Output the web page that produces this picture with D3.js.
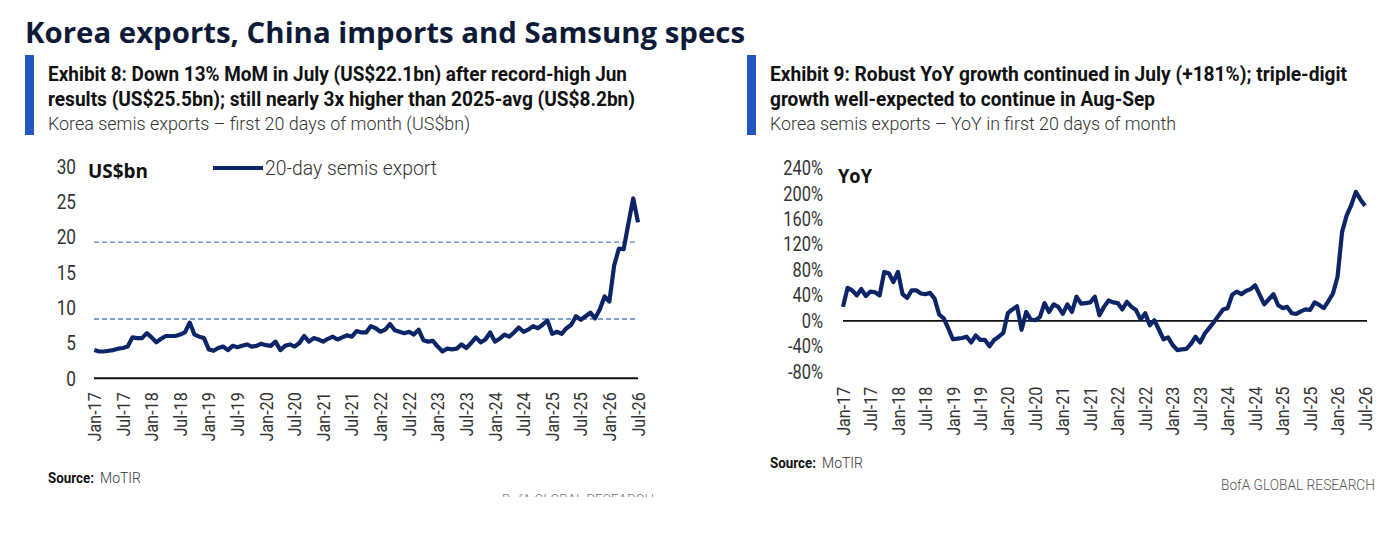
<!DOCTYPE html>
<html><head><meta charset="utf-8">
<script src="https://cdn.jsdelivr.net/npm/d3@7"></script>
<style>
html,body{margin:0;padding:0;background:#fff;}
svg{display:block;}
</style></head>
<body>
<svg id="c" width="1396" height="534"></svg>
<script>
// ---------- DATA ----------
const tickLabels = ["Jan-17","Jul-17","Jan-18","Jul-18","Jan-19","Jul-19","Jan-20","Jul-20","Jan-21","Jul-21",
  "Jan-22","Jul-22","Jan-23","Jul-23","Jan-24","Jul-24","Jan-25","Jul-25","Jan-26","Jul-26"];
// Korea semis exports, first 20 days of month (US$bn), Jan-17 .. Jul-26
const exportsBn = [
 4.0,3.8,3.8,3.9,4.0,4.2,4.3,4.5,5.8,5.7,5.7,6.4,
 5.8,5.1,5.6,6.0,6.0,6.0,6.2,6.5,7.9,6.2,5.9,5.7,
 4.1,3.9,4.3,4.5,4.0,4.6,4.4,4.6,4.8,4.5,4.6,4.9,
 4.7,4.6,5.2,4.0,4.6,4.8,4.5,5.0,6.0,5.2,5.7,5.5,
 5.2,5.6,5.9,5.5,5.8,6.1,5.9,6.7,6.5,6.5,7.4,7.1,
 6.6,6.9,7.7,6.8,6.6,6.4,6.6,6.2,6.9,5.4,5.2,5.3,
 4.5,3.8,4.2,4.1,4.2,4.8,4.3,5.0,5.8,5.1,5.5,6.5,
 5.2,5.6,6.2,5.9,6.5,7.2,6.6,6.9,7.4,7.1,7.6,8.2,
 6.3,6.6,6.3,7.1,7.6,8.8,8.3,8.8,9.3,8.5,9.8,11.6,
 10.9,16.0,18.4,18.3,22.0,25.5,22.1];
// Korea semis exports YoY (%), first 20 days of month
const yoyPct = [
 22,52,48,40,50,39,46,45,40,77,75,61,
 77,42,36,48,48,43,42,44,35,10,4,-12,
 -29,-28,-27,-25,-34,-23,-30,-30,-40,-30,-25,-19,
 12,18,23,-14,14,2,1,6,28,14,26,22,
 11,26,14,38,27,28,29,38,9,22,32,29,
 28,18,30,22,17,2,12,-7,1,-14,-29,-26,
 -38,-46,-45,-44,-36,-25,-34,-20,-11,-2,8,18,
 20,41,46,42,47,50,56,41,26,34,42,25,
 20,22,12,11,15,18,17,29,25,20,31,43,
 69,140,166,182,203,191,181];
const refLines = [19.3, 8.4];           // dashed reference levels (US$bn)
const leftTicks = [0,5,10,15,20,25,30];
const rightTicks = [-80,-40,0,40,80,120,160,200,240];

// ---------- STYLE ----------
const NAVY = "#0b2566", DASH = "#5a7fc4", BAR = "#2356c0", TXT = "#2b2b2b";
const FF = 'Roboto,"Noto Sans",sans-serif';
const svg = d3.select("#c");

function condense(sel, f){ // horizontally condense text by factor f (keeps it real text)
  sel.each(function(){
    const w = this.getComputedTextLength();
    d3.select(this).attr("textLength", w*f).attr("lengthAdjust","spacingAndGlyphs");
  });
  return sel;
}
function txt(x,y,s,o){
  const t = svg.append("text").attr("x",x).attr("y",y).text(s)
    .attr("font-family", o.ff||FF).attr("font-size",o.fs).attr("font-weight",o.fw||400)
    .attr("fill",o.fill||TXT).attr("text-anchor",o.anchor||"start");
  if (o.w) t.attr("textLength",o.w).attr("lengthAdjust","spacingAndGlyphs");
  return t;
}

// ---------- HEADERS ----------
txt(25,43,"Korea exports, China imports and Samsung specs",{ff:'"Open Sans",sans-serif',fs:28,fw:700,fill:"#0d1a38",w:720});

svg.append("rect").attr("x",25).attr("y",55).attr("width",9).attr("height",80).attr("fill",BAR);
txt(48,81,"Exhibit 8: Down 13% MoM in July (US$22.1bn) after record-high Jun",{fs:19.5,fw:700,fill:"#111",w:579});
txt(48,106,"results (US$25.5bn); still nearly 3x higher than 2025-avg (US$8.2bn)",{fs:19.5,fw:700,fill:"#111",w:587});
txt(48,130,"Korea semis exports \u2013 first 20 days of month (US$bn)",{fs:18.5,fw:300,fill:"#333",w:422});

svg.append("rect").attr("x",747).attr("y",55).attr("width",9).attr("height",80).attr("fill",BAR);
txt(770,81,"Exhibit 9: Robust YoY growth continued in July (+181%); triple-digit",{fs:19.5,fw:700,fill:"#111",w:577});
txt(770,106,"growth well-expected to continue in Aug-Sep",{fs:19.5,fw:700,fill:"#111",w:385});
txt(770,130,"Korea semis exports \u2013 YoY in first 20 days of month",{fs:18.5,fw:300,fill:"#333",w:406});

// ---------- LEFT CHART ----------
const xL = d3.scaleLinear().domain([0,114]).range([94.3,638]);
const yL = d3.scaleLinear().domain([0,30]).range([378.3,166.7]);
const idx = d3.range(0,115,6);

const gLy = svg.append("g").attr("transform","translate(76,0)")
  .call(d3.axisLeft(yL).tickValues(leftTicks).tickSize(0).tickPadding(0).tickFormat(d3.format("d")));
gLy.select(".domain").remove();
gLy.selectAll("text").attr("font-family",FF).attr("font-size",21).attr("font-weight",400).attr("fill","#333");
condense(gLy.selectAll("text"),0.82);

refLines.forEach(v=>{
  svg.append("line").attr("x1",94).attr("x2",638).attr("y1",yL(v)).attr("y2",yL(v))
    .attr("stroke",DASH).attr("stroke-width",1.4).attr("stroke-dasharray","5,3");
});

svg.append("line").attr("x1",94).attr("x2",638).attr("y1",yL(0)).attr("y2",yL(0))
  .attr("stroke","#111").attr("stroke-width",2);

function styleX(g, dx){
  g.select(".domain").remove();
  g.selectAll("text").attr("font-family",FF).attr("font-size",17.5).attr("font-weight",400).attr("fill","#333")
    .attr("text-anchor","end").attr("transform","rotate(-90)").attr("dx",dx).attr("dy","0.35em").attr("y",0).attr("x",0);
  condense(g.selectAll("text"),0.92);
}
const gLx = svg.append("g").attr("transform",`translate(0,${yL(0)})`)
  .call(d3.axisBottom(xL).tickValues(idx).tickSize(0).tickFormat((d,i)=>tickLabels[i]));
styleX(gLx,-14);

svg.append("path").datum(exportsBn)
  .attr("d",d3.line().x((d,i)=>xL(i)).y(d=>yL(d)))
  .attr("fill","none").attr("stroke",NAVY).attr("stroke-width",4.2).attr("stroke-linejoin","round");

txt(88,178,"US$bn",{fs:19,fw:700,fill:"#111",ff:'"Open Sans",sans-serif',w:60});
svg.append("line").attr("x1",213).attr("x2",263).attr("y1",168).attr("y2",168).attr("stroke",NAVY).attr("stroke-width",4.2);
txt(265,175,"20-day semis export",{fs:21,fw:300,fill:"#333",w:172});

// ---------- RIGHT CHART ----------
const xR = d3.scaleLinear().domain([0,114]).range([843,1365]);
const yR = d3.scaleLinear().domain([-80,240]).range([371.7,168.3]);

const gRy = svg.append("g").attr("transform","translate(823,0)")
  .call(d3.axisLeft(yR).tickValues(rightTicks).tickSize(0).tickPadding(0).tickFormat(d=>d+"%"));
gRy.select(".domain").remove();
gRy.selectAll("text").attr("font-family",FF).attr("font-size",20).attr("font-weight",400).attr("fill","#333");
condense(gRy.selectAll("text"),0.82);

svg.append("line").attr("x1",843).attr("x2",1367).attr("y1",yR(0)).attr("y2",yR(0))
  .attr("stroke","#111").attr("stroke-width",1.6);

const gRx = svg.append("g").attr("transform",`translate(0,${yR(-80)})`)
  .call(d3.axisBottom(xR).tickValues(idx).tickSize(0).tickFormat((d,i)=>tickLabels[i]));
styleX(gRx,-15);

svg.append("path").datum(yoyPct)
  .attr("d",d3.line().x((d,i)=>xR(i)).y(d=>yR(d)))
  .attr("fill","none").attr("stroke",NAVY).attr("stroke-width",4.2).attr("stroke-linejoin","round");

txt(838,183,"YoY",{fs:19,fw:700,fill:"#111",ff:'"Open Sans",sans-serif',w:34});

// ---------- FOOTERS ----------
function source(x,y){
  txt(x,y,"Source:",{fs:15,fw:700,fill:"#111",w:46});
  txt(x+52,y,"MoTIR",{fs:15,fw:300,fill:"#333",w:41});
}
source(48,483);
source(770,468);
txt(1375,490,"BofA GLOBAL RESEARCH",{fs:15.5,fw:300,fill:"#555",anchor:"end",w:154});
const clip = svg.append("clipPath").attr("id","clipB");
clip.append("rect").attr("x",480).attr("y",480).attr("width",200).attr("height",17);
txt(502,505,"BofA GLOBAL RESEARCH",{fs:15.5,fw:300,fill:"#777",w:152}).attr("clip-path","url(#clipB)");
</script>
</body></html>
